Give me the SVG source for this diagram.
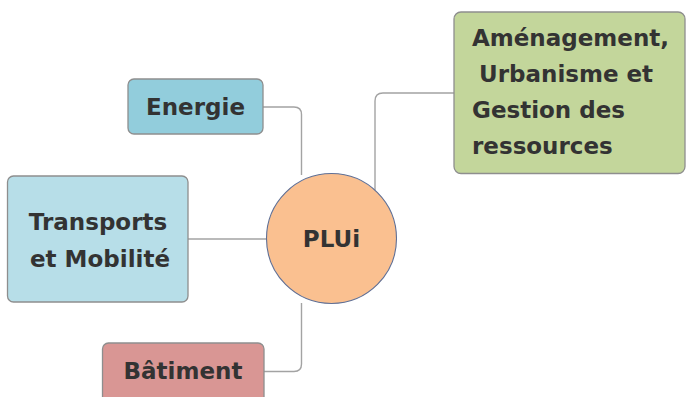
<svg xmlns="http://www.w3.org/2000/svg" width="686" height="397" viewBox="0 0 686 397">
<style>
.box{stroke:#8e8e8e;stroke-width:1.3}
.lbl{font-family:"DejaVu Sans",sans-serif;font-weight:bold;font-size:23px;fill:#333333}
.c{text-anchor:middle}
.conn{fill:none;stroke:#a3a3a3;stroke-width:1.4}
</style>
<rect width="686" height="397" fill="#ffffff"/>
<g id="connectors">
<path class="conn" d="M263,107 H294 Q301.5,107 301.5,114.5 V175"/>
<path class="conn" d="M188,239 H266.5"/>
<path class="conn" d="M264,371.5 H294 Q301.5,371.5 301.5,364 V303"/>
<path class="conn" d="M375,190 V101 Q375,93 383,93 H454"/>
</g>
<g id="energie">
<rect class="box" x="128" y="79" width="135" height="55" rx="6" fill="#92CDDC"/>
<text class="lbl c" x="195.5" y="115">Energie</text>
</g>
<g id="transports">
<rect class="box" x="7.5" y="176" width="180.5" height="126" rx="6" fill="#B7DEE8"/>
<text class="lbl c" x="98" y="230">Transports</text>
<text class="lbl c" x="100" y="267">et Mobilité</text>
</g>
<g id="batiment">
<rect class="box" x="102.5" y="343" width="161.5" height="62" rx="6" fill="#D99694"/>
<text class="lbl c" x="183" y="379">Bâtiment</text>
</g>
<g id="amenagement">
<rect class="box" x="454" y="12" width="231" height="161.5" rx="7" fill="#C3D69B"/>
<text class="lbl" x="472" y="46">Aménagement,</text>
<text class="lbl" x="479" y="82">Urbanisme et</text>
<text class="lbl" x="472" y="118">Gestion des</text>
<text class="lbl" x="472" y="154">ressources</text>
</g>
<g id="plui">
<circle cx="331.5" cy="238.5" r="65" fill="#FAC090" stroke="#5F6F95" stroke-width="1.1"/>
<text class="lbl c" x="331.5" y="247">PLUi</text>
</g>
</svg>
